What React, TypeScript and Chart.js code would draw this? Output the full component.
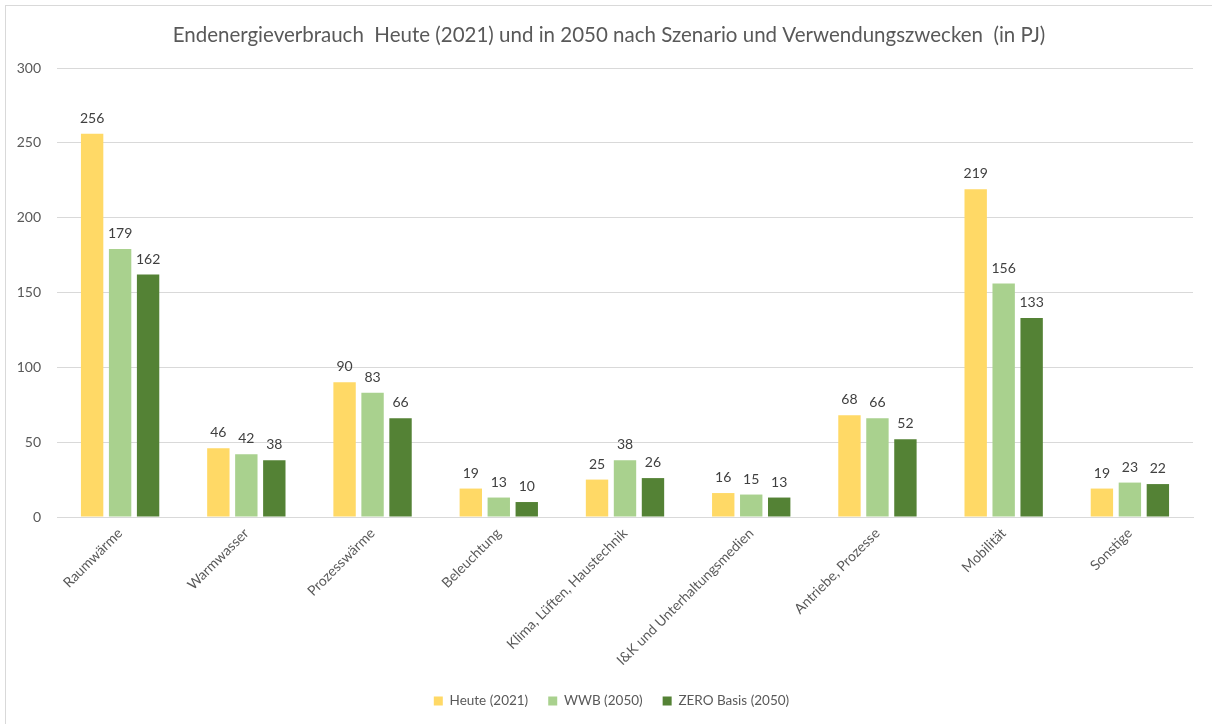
import React, { useEffect, useRef } from "react";
import { Chart, registerables } from "chart.js";

Chart.register(...registerables);

const categories = [
  "Raumwärme",
  "Warmwasser",
  "Prozesswärme",
  "Beleuchtung",
  "Klima, Lüften, Haustechnik",
  "I&K und Unterhaltungsmedien",
  "Antriebe, Prozesse",
  "Mobilität",
  "Sonstige",
];

const heute2021 = [256, 46, 90, 19, 25, 16, 68, 219, 19];
const wwb2050 = [179, 42, 83, 13, 38, 15, 66, 156, 23];
const zeroBasis2050 = [162, 38, 66, 10, 26, 13, 52, 133, 22];

const seriesNames = ["Heute (2021)", "WWB (2050)", "ZERO Basis (2050)"];
const seriesColors = ["#FFD966", "#A9D18E", "#548235"];

const yTicks = [0, 50, 100, 150, 200, 250, 300];

const titleText =
  "Endenergieverbrauch  Heute (2021) und in 2050 nach Szenario und Verwendungszwecken  (in PJ)";

const FONT = "Lato, 'Open Sans', sans-serif";

const frameAndLabels = {
  id: "frameAndLabels",
  afterLayout(chart: any) {
    const shift = (box: any, left: number) => {
      if (!box) return;
      box.left = left;
      box.width = box.right - box.left;
    };
    shift(chart.titleBlock, 25);
    shift(chart.legend, 30);
  },
  beforeDraw(chart: any) {
    const ctx = chart.ctx;
    ctx.save();
    ctx.fillStyle = "#ffffff";
    ctx.fillRect(0, 0, chart.width, chart.height);
    ctx.strokeStyle = "#D9D9D9";
    ctx.lineWidth = 1;
    ctx.strokeRect(5.5, 5.5, chart.width + 20, chart.height + 20);
    ctx.restore();
  },
  afterDatasetsDraw(chart: any) {
    const ctx = chart.ctx;
    ctx.save();
    ctx.font = `14px ${FONT}`;
    ctx.fillStyle = "#404040";
    ctx.textAlign = "center";
    ctx.textBaseline = "alphabetic";
    chart.data.datasets.forEach((ds: any, di: number) => {
      const meta = chart.getDatasetMeta(di);
      meta.data.forEach((bar: any, i: number) => {
        const v = ds.data[i];
        ctx.fillText(String(Math.round(v)), bar.x, bar.y - 11);
      });
    });
    ctx.restore();
  },
};

export default function App() {
  const ref = useRef<HTMLCanvasElement | null>(null);

  useEffect(() => {
    if (!ref.current) return;
    const seriesData = [heute2021, wwb2050, zeroBasis2050];
    const chart = new Chart(ref.current, {
      type: "bar",
      data: {
        labels: categories,
        datasets: seriesNames.map((name, i) => ({
          label: name,
          data: seriesData[i],
          backgroundColor: seriesColors[i],
          borderWidth: 0,
          barPercentage: 0.8,
          categoryPercentage: 0.665,
        })),
      },
      options: {
        animation: false,
        responsive: false,
        maintainAspectRatio: false,
        layout: { padding: { left: 0, right: 19, top: 0, bottom: 6.25 } },
        plugins: {
          title: {
            display: true,
            text: titleText,
            color: "#595959",
            font: { family: FONT, size: 20.5, weight: "normal" },
            padding: { top: 22.7, bottom: 20.7 },
          },
          legend: {
            position: "bottom",
            labels: {
              color: "#595959",
              font: { family: FONT, size: 13.5 },
              boxWidth: 9,
              boxHeight: 9,
              padding: 20,
            },
          },
          tooltip: { enabled: false },
        },
        scales: {
          x: {
            grid: { display: false, drawTicks: false },
            border: { display: true, color: "#D9D9D9", width: 1 },
            ticks: {
              color: "#595959",
              font: { family: FONT, size: 14 },
              minRotation: 45,
              maxRotation: 45,
              padding: 8,
              autoSkip: false,
            },
            afterFit(scale: any) {
              scale.height = 157.25;
            },
          },
          y: {
            min: 0,
            max: 300,
            afterBuildTicks(scale: any) {
              scale.ticks = yTicks.map((v) => ({ value: v }));
            },
            grid: { color: "#D9D9D9", drawTicks: false },
            border: { display: false },
            ticks: {
              color: "#595959",
              font: { family: FONT, size: 14 },
              padding: 16,
            },
            afterFit(scale: any) {
              scale.width = 57;
            },
          },
        },
      },
      plugins: [frameAndLabels],
    } as any);
    return () => chart.destroy();
  }, []);

  return (
    <div style={{ position: "fixed", left: 0, top: 0, width: 1212, height: 724 }}>
      <canvas ref={ref} width={1212} height={724} style={{ display: "block" }} />
    </div>
  );
}
